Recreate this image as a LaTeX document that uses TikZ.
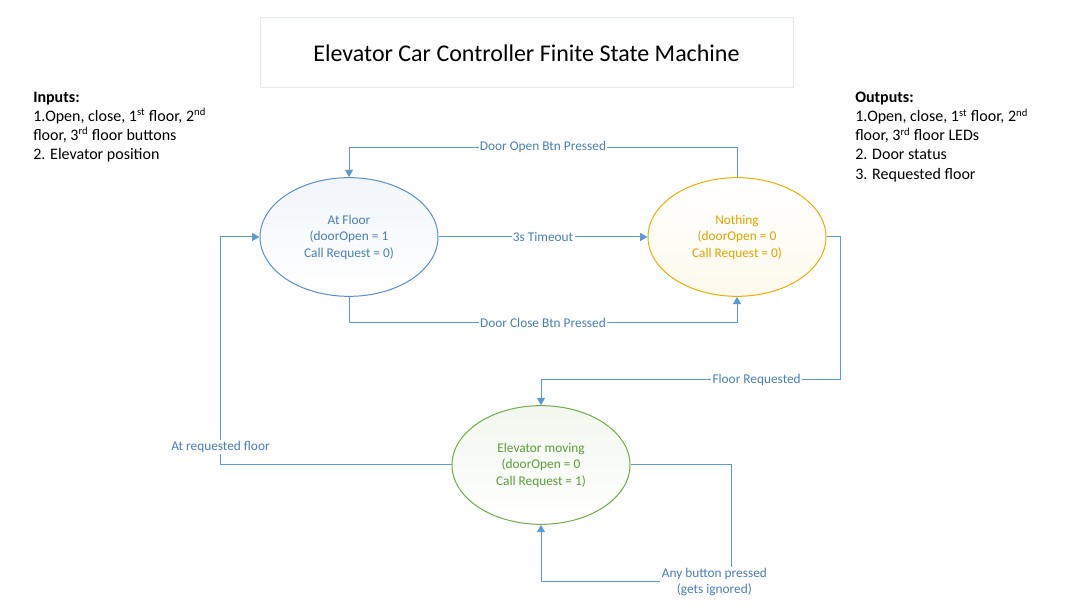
\documentclass[tikz,border=0pt]{standalone}
\usepackage{fontspec}
\setmainfont{Carlito}
\usetikzlibrary{shapes.geometric}
\usetikzlibrary{arrows.meta}
\definecolor{linkblue}{HTML}{5B9BD5}
\definecolor{labelblue}{HTML}{4A7EBB}
\definecolor{floorline}{HTML}{5B8FC9}
\definecolor{nothingline}{HTML}{EBB000}
\definecolor{nothingtext}{HTML}{E0A400}
\definecolor{movingline}{HTML}{70AD47}
\definecolor{movingtext}{HTML}{5E9B3A}
\definecolor{framegray}{HTML}{E3E7EF}
\tikzstyle{state}=[ellipse,draw,line width=0.75pt,minimum width=133.5pt,minimum height=89pt,align=center,font=\fontsize{10}{12.4}\selectfont]
\tikzstyle{link}=[-{Triangle[length=5.5pt,width=6pt]},draw=linkblue,line width=0.75pt]
\tikzstyle{linklabel}=[fill=white,inner sep=1pt,text=labelblue,font=\fontsize{10}{12}\selectfont]
\tikzstyle{iolist}=[anchor=north west,inner sep=0pt,align=left,font=\fontsize{12}{14.3}\selectfont]
\newcommand{\nth}[1]{\textsuperscript{#1}}

\begin{document}
\begin{tikzpicture}[x=0.75pt,y=-0.75pt]
  \useasboundingbox (0,0) rectangle (1065,616);
  % title
  \node[draw=framegray,line width=0.75pt,minimum width=399.75pt,minimum height=52.5pt,font=\fontsize{18}{21}\selectfont] (title) at (526.5,53) {Elevator Car Controller Finite State Machine};
  % inputs / outputs
  \node[iolist] (inputs) at (33,92) {\textbf{Inputs:}\\1.Open, close, 1\nth{st} floor, 2\nth{nd}\\floor, 3\nth{rd} floor buttons\\2. Elevator position};
  \node[iolist] (outputs) at (855,92) {\textbf{Outputs:}\\1.Open, close, 1\nth{st} floor, 2\nth{nd}\\floor, 3\nth{rd} floor LEDs\\2. Door status\\3. Requested floor};
  % states
  \node[state,draw=floorline,text=labelblue,shade,top color=floorline!8!white,bottom color=white] (floor) at (349,237) {At Floor\\(doorOpen = 1\\Call Request = 0)};
  \node[state,draw=nothingline,text=nothingtext,shade,top color=white,bottom color=nothingline!7!white] (nothing) at (737,237) {Nothing\\(doorOpen = 0\\Call Request = 0)};
  \node[state,draw=movingline,text=movingtext,shade,top color=movingline!9!white,bottom color=white] (moving) at (541,465) {Elevator moving\\(doorOpen = 0\\Call Request = 1)};
  % transitions
  \draw[link] (nothing.north) -- ++(0,-30) -| (floor.north) node[linklabel,pos=0.25] (doorbtn) {Door Open Btn Pressed};
  \draw[link] (floor.east) -- (nothing.west) node[linklabel,midway] (timeout) {3s Timeout};
  \draw[link] (floor.south) -- ++(0,26) -| (nothing.south) node[linklabel,pos=0.25] (closebtn) {Door Close Btn Pressed};
  \draw[link] (nothing.east) -| ++(14,143) -| (moving.north) node[linklabel,pos=0.14] (requested) {Floor Requested};
  \draw[link] (moving.west) -- ++(-231,0) |- (floor.west) node[linklabel,pos=0.04] (arrived) {At requested floor};
  \draw[link] (moving.east) -| ++(101,117) -| (moving.south) node[linklabel,pos=0.045,align=center,font=\fontsize{10}{12.5}\selectfont] (ignored) {Any button pressed\\(gets ignored)};
\end{tikzpicture}
\end{document}
